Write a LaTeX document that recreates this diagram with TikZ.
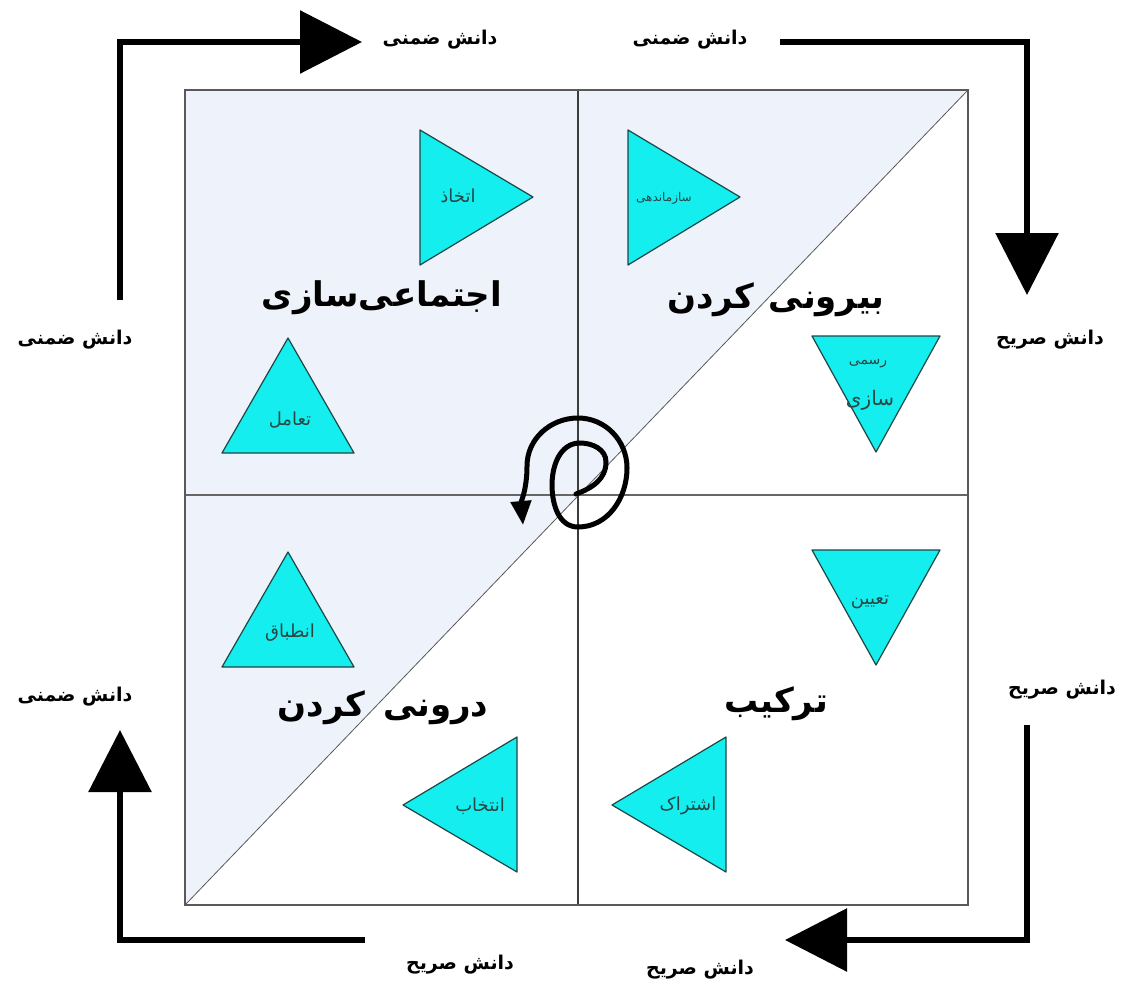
\documentclass[tikz,border=0pt]{standalone}
\usepackage{fontspec}
\setmainfont{DejaVu Sans}
\newfontfamily\arfont[Script=Arabic]{DejaVu Sans}
\TeXXeTstate=1
\usetikzlibrary{arrows.meta}
\definecolor{bgshade}{RGB}{238,243,251}
\definecolor{tri}{RGB}{20,238,238}
\definecolor{triedge}{RGB}{30,70,70}
\definecolor{gridc}{RGB}{60,60,60}
\definecolor{tritext}{RGB}{40,70,70}
\tikzset{
  lbl/.style={font=\arfont\bfseries\fontsize{19}{21}\selectfont, inner sep=0pt},
  ttl/.style={font=\arfont\bfseries\fontsize{34}{36}\selectfont, inner sep=0pt},
  tlab/.style={font=\arfont\fontsize{18}{19}\selectfont, inner sep=0pt, text=tritext},
  tribox/.style={fill=tri, draw=triedge, line width=1.2pt, line join=round},
  bigarrow/.style={line width=6pt, -{Triangle[length=62pt,width=62pt]}},
  spiral/.style={line width=5pt, line cap=round, -{Triangle[length=24pt,width=20pt]}},
}
\begin{document}
\begin{tikzpicture}[x=1pt,y=-1pt]
\useasboundingbox (0,0) rectangle (1131,995);
% main square
\coordinate (TL) at (185,90);
\coordinate (TR) at (968,90);
\coordinate (BL) at (185,905);
\coordinate (BR) at (968,905);
\coordinate (TM) at (578,90);
\coordinate (BM) at (578,905);
\coordinate (LM) at (185,495);
\coordinate (RM) at (968,495);
\fill[bgshade] (TL) -- (TR) -- (BL) -- cycle;
\draw[gray!70!black, line width=0.8pt] (BL) -- (TR);
\draw[gridc, line width=2pt] (TM) -- (BM);
\draw[gray!80!black, line width=1.8pt] (LM) -- (RM);
\draw[gray!70!black, line width=1.5pt] (TL) rectangle (BR);

% triangles
\draw[tribox] (420,130) -- (533,197) -- (420,265) -- cycle;
\node[tlab] (etkhaz) at (458,196) {\beginR اتخاذ\endR};
\draw[tribox] (628,130) -- (740,197) -- (628,265) -- cycle;
\node[tlab, font=\arfont\fontsize{12}{13}\selectfont] (sazman) at (664,198) {\beginR سازماندهی\endR};
\draw[tribox] (288,338) -- (354,453) -- (222,453) -- cycle;
\node[tlab] (taamol) at (290,420) {\beginR تعامل\endR};
\draw[tribox] (812,336) -- (940,336) -- (876,452) -- cycle;
\node[tlab, font=\arfont\fontsize{14}{15}\selectfont] (rasmi) at (868,364) {\beginR رسمی\endR};
\node[tlab, font=\arfont\fontsize{20}{21}\selectfont] (sazi) at (870,400) {\beginR سازی\endR};
\draw[tribox] (288,552) -- (354,667) -- (222,667) -- cycle;
\node[tlab] (entebagh) at (290,633) {\beginR انطباق\endR};
\draw[tribox] (812,550) -- (940,550) -- (876,665) -- cycle;
\node[tlab] (tayin) at (870,602) {\beginR تعیین\endR};
\draw[tribox] (517,737) -- (517,872) -- (403,805) -- cycle;
\node[tlab] (entekhab) at (480,806) {\beginR انتخاب\endR};
\draw[tribox] (726,737) -- (726,872) -- (612,805) -- cycle;
\node[tlab] (eshterak) at (688,806) {\beginR اشتراک\endR};

% quadrant titles
\node[ttl] (soc) at (382,298) {\beginR اجتماعی‌سازی\endR};
\node[ttl] (ext) at (776,300) {\beginR بیرونی\hspace{14pt}کردن\endR};
\node[ttl] (intl) at (383,708) {\beginR درونی\hspace{18pt}کردن\endR};
\node[ttl] (comb) at (776,704) {\beginR ترکیب\endR};

% outer labels
\node[lbl] (l1) at (440,40) {\beginR دانش ضمنی\endR};
\node[lbl] (l2) at (690,40) {\beginR دانش ضمنی\endR};
\node[lbl] (l3) at (1050,340) {\beginR دانش صریح\endR};
\node[lbl] (l4) at (1062,690) {\beginR دانش صریح\endR};
\node[lbl] (l5) at (700,970) {\beginR دانش صریح\endR};
\node[lbl] (l6) at (460,965) {\beginR دانش صریح\endR};
\node[lbl] (l7) at (75,697) {\beginR دانش ضمنی\endR};
\node[lbl] (l8) at (75,340) {\beginR دانش ضمنی\endR};

% outer arrows
\coordinate (a1s) at (120,300);
\coordinate (a1c) at (120,42);
\coordinate (a1e) at (362,42);
\draw[bigarrow] (a1s) -- (a1c) -- (a1e);
\coordinate (a2s) at (780,42);
\coordinate (a2c) at (1027,42);
\coordinate (a2e) at (1027,295);
\draw[bigarrow] (a2s) -- (a2c) -- (a2e);
\coordinate (a3s) at (1027,725);
\coordinate (a3c) at (1027,940);
\coordinate (a3e) at (785,940);
\draw[bigarrow] (a3s) -- (a3c) -- (a3e);
\coordinate (a4s) at (365,940);
\coordinate (a4c) at (120,940);
\coordinate (a4e) at (120,730);
\draw[bigarrow] (a4s) -- (a4c) -- (a4e);

% spiral
\coordinate (sp0) at (576,494);
\draw[spiral] (sp0) to[out=20,in=-90] (606,462) to[out=90,in=0] (580,443)
  to[out=180,in=90] (552,485) to[out=-90,in=180] (578,527)
  to[out=0,in=-90] (627,468) to[out=90,in=0] (578,418)
  to[out=180,in=90] (527,466) to[out=-90,in=95] (523,525);
\end{tikzpicture}
\end{document}
